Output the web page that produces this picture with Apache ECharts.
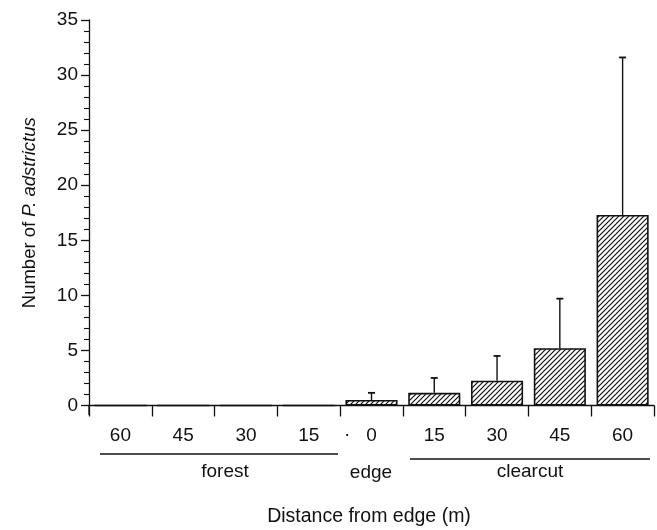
<!DOCTYPE html>
<html>
<head>
<meta charset="utf-8">
<script src="https://cdn.jsdelivr.net/npm/echarts@6/dist/echarts.min.js"></script>
<style>
html,body{margin:0;padding:0;background:#fff;}
#main{width:657px;height:530px;}
</style>
</head>
<body>
<div id="main"></div>
<script>
// ---- data ----
var categories = ['forest 60','forest 45','forest 30','forest 15','edge 0','clearcut 15','clearcut 30','clearcut 45','clearcut 60'];
var tickLabels = ['60','45','30','15','0','15','30','45','60'];
var meanValues = [0, 0, 0, 0, 0.5, 1.15, 2.25, 5.2, 17.3];
var upperError = [null, null, null, null, 1.15, 2.5, 4.5, 9.7, 31.6];
var yTicks = [0, 5, 10, 15, 20, 25, 30, 35];

var FONT = "'Liberation Sans', Arial, sans-serif";
var INK = '#111';

// hatch pattern
function makeHatch() {
  var s = 5;
  var c = document.createElement('canvas');
  c.width = s; c.height = s;
  var g = c.getContext('2d');
  g.fillStyle = '#fff';
  g.fillRect(0, 0, s, s);
  g.strokeStyle = '#111';
  g.lineWidth = 1.2;
  g.beginPath();
  g.moveTo(-1, s + 1); g.lineTo(s + 1, -1);
  g.moveTo(-1, 1); g.lineTo(1, -1);
  g.moveTo(s - 1, s + 1); g.lineTo(s + 1, s - 1);
  g.stroke();
  return c;
}

var errData = [];
for (var i = 0; i < categories.length; i++) {
  if (upperError[i] != null) errData.push([i, upperError[i], meanValues[i]]);
}

var chart = echarts.init(document.getElementById('main'), null, {renderer: 'canvas'});
chart.setOption({
  backgroundColor: '#fff',
  animation: false,
  grid: {left: 89, right: 3, top: 20, bottom: 124.5, containLabel: false},
  xAxis: {
    type: 'category',
    data: categories,
    boundaryGap: true,
    axisLine: {show: true, lineStyle: {color: INK, width: 1.3}},
    axisTick: {show: true, length: 11, lineStyle: {color: INK, width: 1.3}},
    axisLabel: {
      interval: 0, margin: 21, color: INK, fontSize: 19, fontFamily: FONT,
      formatter: function (v, idx) { return tickLabels[idx]; }
    },
    splitLine: {show: false}
  },
  yAxis: {
    type: 'value',
    min: 0, max: 35, interval: 5,
    axisLine: {show: true, lineStyle: {color: INK, width: 1.3}},
    axisTick: {show: true, length: 8, lineStyle: {color: INK, width: 1.3}},
    minorTick: {show: true, splitNumber: 5, length: 5, lineStyle: {color: INK, width: 1.1}},
    axisLabel: {margin: 11, color: INK, fontSize: 19, fontFamily: FONT,
      formatter: function (v) { return yTicks.indexOf(v) >= 0 ? String(v) : ''; }},
    splitLine: {show: false},
    name: '{n|Number of }{i|P. adstrictus}',
    nameLocation: 'middle',
    nameGap: 50,
    nameRotate: 90,
    nameTextStyle: {
      rich: {
        n: {fontSize: 18.5, fontFamily: FONT, color: INK},
        i: {fontSize: 18.5, fontFamily: FONT, color: INK, fontStyle: 'italic'}
      }
    }
  },
  series: [
    {
      type: 'bar',
      data: meanValues,
      barCategoryGap: '17%',
      itemStyle: {
        color: {image: makeHatch(), repeat: 'repeat'},
        borderColor: INK,
        borderWidth: 1.6
      },
      z: 2
    },
    {
      type: 'custom',
      data: errData,
      z: 3,
      renderItem: function (params, api) {
        var x = api.value(0);
        var top = api.coord([x, api.value(1)]);
        var bot = api.coord([x, api.value(2)]);
        var half = 3.5;
        return {
          type: 'group',
          children: [
            {type: 'line', shape: {x1: top[0], y1: bot[1], x2: top[0], y2: top[1]},
              style: {stroke: INK, lineWidth: 1.4}},
            {type: 'line', shape: {x1: top[0] - half, y1: top[1], x2: top[0] + half, y2: top[1]},
              style: {stroke: INK, lineWidth: 1.8}}
          ]
        };
      }
    }
  ],
  graphic: [
    {type: 'line', shape: {x1: 89, y1: 405, x2: 89, y2: 415}, style: {stroke: INK, lineWidth: 1.3}},
    {type: 'text', left: 344, top: 425, style: {text: '·', font: '19px ' + FONT, fill: INK}},
    {type: 'line', shape: {x1: 100, y1: 454, x2: 338, y2: 454}, style: {stroke: INK, lineWidth: 1.3}},
    {type: 'line', shape: {x1: 410, y1: 459, x2: 650, y2: 459}, style: {stroke: INK, lineWidth: 1.3}},
    {type: 'text', x: 225, y: 472, style: {text: 'forest', font: '19px ' + FONT, fill: INK, textAlign: 'center', textVerticalAlign: 'middle'}},
    {type: 'text', x: 371, y: 473, style: {text: 'edge', font: '19px ' + FONT, fill: INK, textAlign: 'center', textVerticalAlign: 'middle'}},
    {type: 'text', x: 530, y: 472, style: {text: 'clearcut', font: '19px ' + FONT, fill: INK, textAlign: 'center', textVerticalAlign: 'middle'}},
    {type: 'text', x: 369, y: 517, style: {text: 'Distance from edge (m)', font: '19.5px ' + FONT, fill: INK, textAlign: 'center', textVerticalAlign: 'middle'}}
  ]
});
</script>
</body>
</html>
